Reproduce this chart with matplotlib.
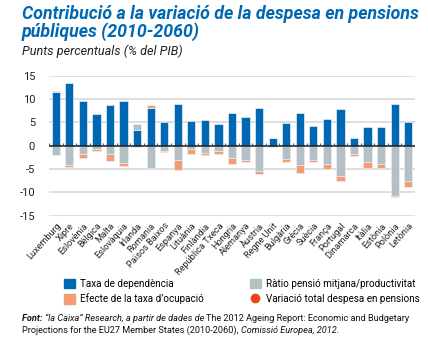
import numpy as np
import matplotlib
matplotlib.use('Agg')
import matplotlib.pyplot as plt
from matplotlib.patches import Patch
from matplotlib.lines import Line2D

plt.rcParams['font.family'] = ['Roboto', 'DejaVu Sans']

# countries, ordered as in the report
countries = ['Luxemburg', 'Xipre', 'Eslovènia', 'Bèlgica', 'Malta', 'Eslovàquia',
             'Irlanda', 'Romania', 'Països Baixos', 'Espanya', 'Lituània', 'Finlàndia',
             'República Txeca', 'Hongria', 'Alemanya', 'Àustria', 'Regne Unit',
             'Bulgària', 'Grècia', 'Suècia', 'França', 'Portugal', 'Dinamarca',
             'Itàlia', 'Estònia', 'Polònia', 'Letònia']

# contributions in p.p. of GDP
dependencia = [11.4, 13.4, 9.6, 6.7, 8.7, 9.6, 3.3, 8.1, 5.0, 8.9, 5.3, 5.4, 4.7, 6.9,
               6.1, 8.0, 1.6, 4.9, 7.0, 4.2, 5.6, 7.9, 1.6, 4.0, 4.0, 8.9, 5.1]
ratio_pensio = [-2.1, -4.1, -1.7, -0.7, -1.7, -3.8, 1.3, -4.9, -1.2, -3.0, -0.7, -1.6,
                -1.2, -2.7, -3.0, -5.4, 0.0, -2.8, -4.1, -3.0, -3.9, -6.5, -1.7, -3.6,
                -3.9, -10.8, -7.6]
ocupacio = [0.2, -0.5, -1.0, -0.4, -1.6, -0.6, -0.4, 0.5, -0.2, -2.3, -1.1, -0.5, -0.7,
            -1.3, -0.6, -0.7, -0.3, -0.8, -1.8, -0.5, -1.2, -1.1, -0.5, -1.3, -1.0,
            -0.3, -1.3]

yticks = [-15, -10, -5, 0, 5, 10, 15]

BLUE = '#0068b3'
GREY = '#b5c0c4'
ORANGE = '#f49c72'
RED = '#e8471c'

dep = np.array(dependencia)
rat = np.array(ratio_pensio)
ocu = np.array(ocupacio)
x = np.arange(len(countries))

# stacking: positives go on top of the blue bar, negatives hang from zero
rat_bottom = np.where(rat >= 0, dep, 0)
ocu_bottom = np.where(ocu >= 0, dep + np.clip(rat, 0, None), np.clip(rat, None, 0))

fig = plt.figure(figsize=(4.28, 3.38), dpi=100)
ax = fig.add_axes([49 / 428, 1 - 215.7 / 338, 366 / 428, 140.2 / 338])

for v in yticks:
    if v != 0:
        ax.axhline(v, color='#d4d4d4', lw=1.1, zorder=0)

w = 0.6
kw = dict(width=w, edgecolor='#e6eef5', linewidth=0.5, zorder=3)
ax.bar(x, dep, color=BLUE, **kw)
ax.bar(x, rat, bottom=rat_bottom, color=GREY, **kw)
ax.bar(x, ocu, bottom=ocu_bottom, color=ORANGE, **kw)

ax.axhline(0, color='#1a1a1a', lw=1.1, zorder=4)
ax.vlines(np.arange(len(countries) + 1) - 0.5, 0, 0.55, color='#555555', lw=0.8, zorder=4)

ax.set_xlim(-0.5, len(countries) - 0.5)
ax.set_ylim(-15, 15)
ax.set_yticks(yticks)
ax.set_yticklabels([str(v) for v in yticks], fontsize=8, color='#222222')
ax.set_xticks(x)
ax.set_xticklabels(countries, rotation=48, ha='right', rotation_mode='anchor',
                   fontsize=6.6, color='#222222')
ax.tick_params(axis='both', length=0)
ax.tick_params(axis='y', pad=10)
ax.tick_params(axis='x', pad=4)
for s in ax.spines.values():
    s.set_visible(False)

renderer = fig.canvas.get_renderer()


def fit(texts, target_px):
    # scale a group of texts so that together they span target_px
    total = sum(t.get_window_extent(renderer).width for t in texts)
    for t in texts:
        t.set_fontsize(t.get_fontsize() * target_px / total)
    return texts[0].get_fontsize()


# titles
t1 = fig.text(22 / 428, 1 - 19 / 338, 'Contribució a la variació de la despesa en pensions',
              fontsize=11, fontweight='bold', style='italic', color=BLUE, va='baseline')
t2 = fig.text(22 / 428, 1 - 37 / 338, 'públiques (2010-2060)',
              fontsize=11, fontweight='bold', style='italic', color=BLUE, va='baseline')
fit([t1], 394)
t2.set_fontsize(t1.get_fontsize())
st = fig.text(22 / 428, 1 - 55 / 338, 'Punts percentuals (% del PIB)',
              fontsize=8.5, style='italic', color='#222222', va='baseline')
fit([st], 160)

handles = [Patch(color=BLUE), Patch(color=ORANGE), Patch(color=GREY),
           Line2D([], [], marker='o', ls='', color=RED, markersize=6)]
labels = ['Taxa de dependència', 'Efecte de la taxa d’ocupació',
          'Ràtio pensió mitjana/productivitat', 'Variació total despesa en pensions']
leg_kw = dict(loc='upper left', frameon=False, fontsize=7.1, handlelength=1.1,
              handleheight=1.1, handletextpad=0.5, labelspacing=0.45, borderaxespad=0)
fig.legend(handles[:2], labels[:2], bbox_to_anchor=(60 / 428, 1 - 275 / 338), **leg_kw)
fig.legend(handles[2:], labels[2:], bbox_to_anchor=(246 / 428, 1 - 275 / 338), **leg_kw)


# source note, pieced together so each part keeps its own style
def note_line(parts, y, fs):
    last = None
    arts = []
    for txt, weight, style in parts:
        if last is None:
            last = fig.text(22 / 428, 1 - y / 338, txt, fontsize=fs, fontweight=weight,
                            style=style, va='bottom', color='#111111')
        else:
            last = fig.add_artist(matplotlib.text.Annotation(
                txt, xy=(1, 0), xycoords=last, fontsize=fs, fontweight=weight,
                style=style, va='bottom', ha='left', color='#111111'))
        arts.append(last)
    return arts


line1 = note_line([('Font: ', 'bold', 'italic'),
                   ('“la Caixa” Research, a partir de dades de ', 'normal', 'italic'),
                   ('The 2012 Ageing Report: Economic and Budgetary', 'normal', 'normal')],
                  323, 7)
note_fs = fit(line1, 386)
note_line([('Projections for the EU27 Member States (2010-2060), ', 'normal', 'normal'),
           ('Comissió Europea, 2012.', 'normal', 'italic')], 335, note_fs)

fig.savefig('out.png', dpi=100)
